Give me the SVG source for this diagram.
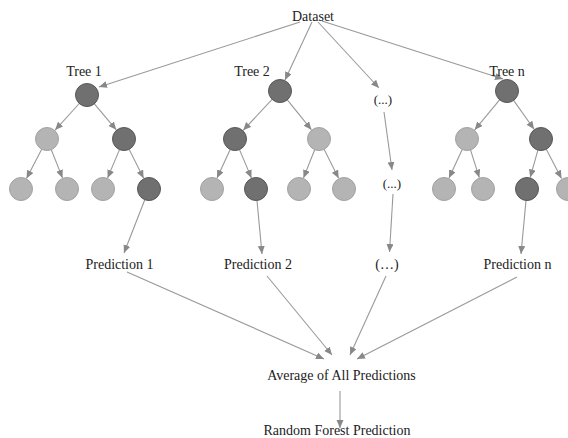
<svg xmlns="http://www.w3.org/2000/svg" width="568" height="438" viewBox="0 0 568 438">
<style>
.t{font-family:"Liberation Serif","Times New Roman",serif;font-size:14px;fill:#222;text-anchor:middle}
.s{font-size:13px}
.e{stroke:#999;stroke-width:1.1;fill:none;marker-end:url(#ah)}
.d{fill:#707070;stroke:#585858;stroke-width:1}
.l{fill:#b4b4b4;stroke:#a2a2a2;stroke-width:1}
</style>
<defs>
<marker id="ah" markerUnits="userSpaceOnUse" markerWidth="9" markerHeight="8" refX="8" refY="3.5" orient="auto">
<path d="M0,0 L8,3.5 L0,7 z" fill="#888"/>
</marker>
</defs>
<rect width="568" height="438" fill="#fff"/>
<g id="connectors">
<line class="e" x1="300" y1="22" x2="99" y2="87"/>
<line class="e" x1="312" y1="22" x2="285" y2="80"/>
<line class="e" x1="318" y1="22" x2="379" y2="88"/>
<line class="e" x1="322" y1="21" x2="503" y2="79"/>
<line class="e" x1="79.3" y1="103.5" x2="55.1" y2="130.1"/>
<line class="e" x1="94.4" y1="103.8" x2="116.3" y2="129.8"/>
<line class="e" x1="41.7" y1="149.2" x2="26.5" y2="178.4"/>
<line class="e" x1="51.3" y1="149.7" x2="62.5" y2="177.9"/>
<line class="e" x1="119.5" y1="149.6" x2="107.6" y2="177.9"/>
<line class="e" x1="129.1" y1="149.3" x2="143.6" y2="178.3"/>
<line class="e" x1="272.1" y1="99.4" x2="243.2" y2="130.3"/>
<line class="e" x1="287.3" y1="99.9" x2="311.4" y2="129.7"/>
<line class="e" x1="230.2" y1="149.4" x2="217" y2="178.1"/>
<line class="e" x1="239.5" y1="149.6" x2="251.4" y2="177.9"/>
<line class="e" x1="314.7" y1="149.7" x2="303.5" y2="177.9"/>
<line class="e" x1="324.1" y1="149.3" x2="338.6" y2="178.3"/>
<line class="e" x1="499.6" y1="99.8" x2="474.7" y2="129.8"/>
<line class="e" x1="513.6" y1="100.4" x2="534.1" y2="129.2"/>
<line class="e" x1="462.2" y1="149.4" x2="449" y2="178.1"/>
<line class="e" x1="470.5" y1="149.9" x2="479.3" y2="177.6"/>
<line class="e" x1="537.9" y1="150.1" x2="530.2" y2="177.4"/>
<line class="e" x1="546.3" y1="149.2" x2="561.5" y2="178.4"/>
<line class="e" x1="384" y1="112" x2="392" y2="170"/>
<line class="e" x1="393" y1="194" x2="389.5" y2="252"/>
<line class="e" x1="144.8" y1="199.7" x2="124" y2="253"/>
<line class="e" x1="257" y1="200.5" x2="262" y2="254"/>
<line class="e" x1="526" y1="200.5" x2="521" y2="254"/>
<line class="e" x1="127" y1="272" x2="324" y2="359"/>
<line class="e" x1="267" y1="276" x2="332" y2="355"/>
<line class="e" x1="386" y1="276" x2="350" y2="355"/>
<line class="e" x1="517" y1="277" x2="357" y2="359"/>
<line class="e" x1="340" y1="391" x2="340" y2="428"/>
</g>
<g id="dataset"><text class="t" x="313" y="21">Dataset</text></g>
<g id="tree1">
<text class="t" x="84" y="76">Tree 1</text>
<circle class="d" cx="87" cy="95" r="11.5"/>
<circle class="l" cx="47" cy="139" r="11.5"/>
<circle class="d" cx="124" cy="139" r="11.5"/>
<circle class="l" cx="21" cy="189" r="11.5"/>
<circle class="l" cx="67" cy="189" r="11.5"/>
<circle class="l" cx="103" cy="189" r="11.5"/>
<circle class="d" cx="149" cy="189" r="11.5"/>
</g>
<g id="tree2">
<text class="t" x="252" y="76">Tree 2</text>
<circle class="d" cx="280" cy="91" r="11.5"/>
<circle class="d" cx="235" cy="139" r="11.5"/>
<circle class="l" cx="319" cy="139" r="11.5"/>
<circle class="l" cx="212" cy="189" r="11.5"/>
<circle class="d" cx="256" cy="189" r="11.5"/>
<circle class="l" cx="299" cy="189" r="11.5"/>
<circle class="l" cx="344" cy="189" r="11.5"/>
</g>
<g id="treemid">
<text class="t s" x="383" y="104">(...)</text>
<text class="t s" x="392" y="188">(...)</text>
</g>
<g id="treen">
<circle class="d" cx="507" cy="91" r="11.5"/>
<circle class="l" cx="467" cy="139" r="11.5"/>
<circle class="d" cx="541" cy="139" r="11.5"/>
<circle class="l" cx="444" cy="189" r="11.5"/>
<circle class="l" cx="483" cy="189" r="11.5"/>
<circle class="d" cx="527" cy="189" r="11.5"/>
<circle class="l" cx="568" cy="189" r="11.5"/>
<text class="t" x="507" y="76">Tree n</text>
</g>
<g id="pred1"><text class="t" x="119.5" y="269">Prediction 1</text></g>
<g id="pred2"><text class="t" x="258" y="269">Prediction 2</text></g>
<g id="predmid"><text class="t" x="387" y="269">(…)</text></g>
<g id="predn"><text class="t" x="517.5" y="269">Prediction n</text></g>
<g id="average"><text class="t" x="341.5" y="380">Average of All Predictions</text></g>
<g id="rf"><text class="t" x="337" y="435">Random Forest Prediction</text></g>
</svg>
